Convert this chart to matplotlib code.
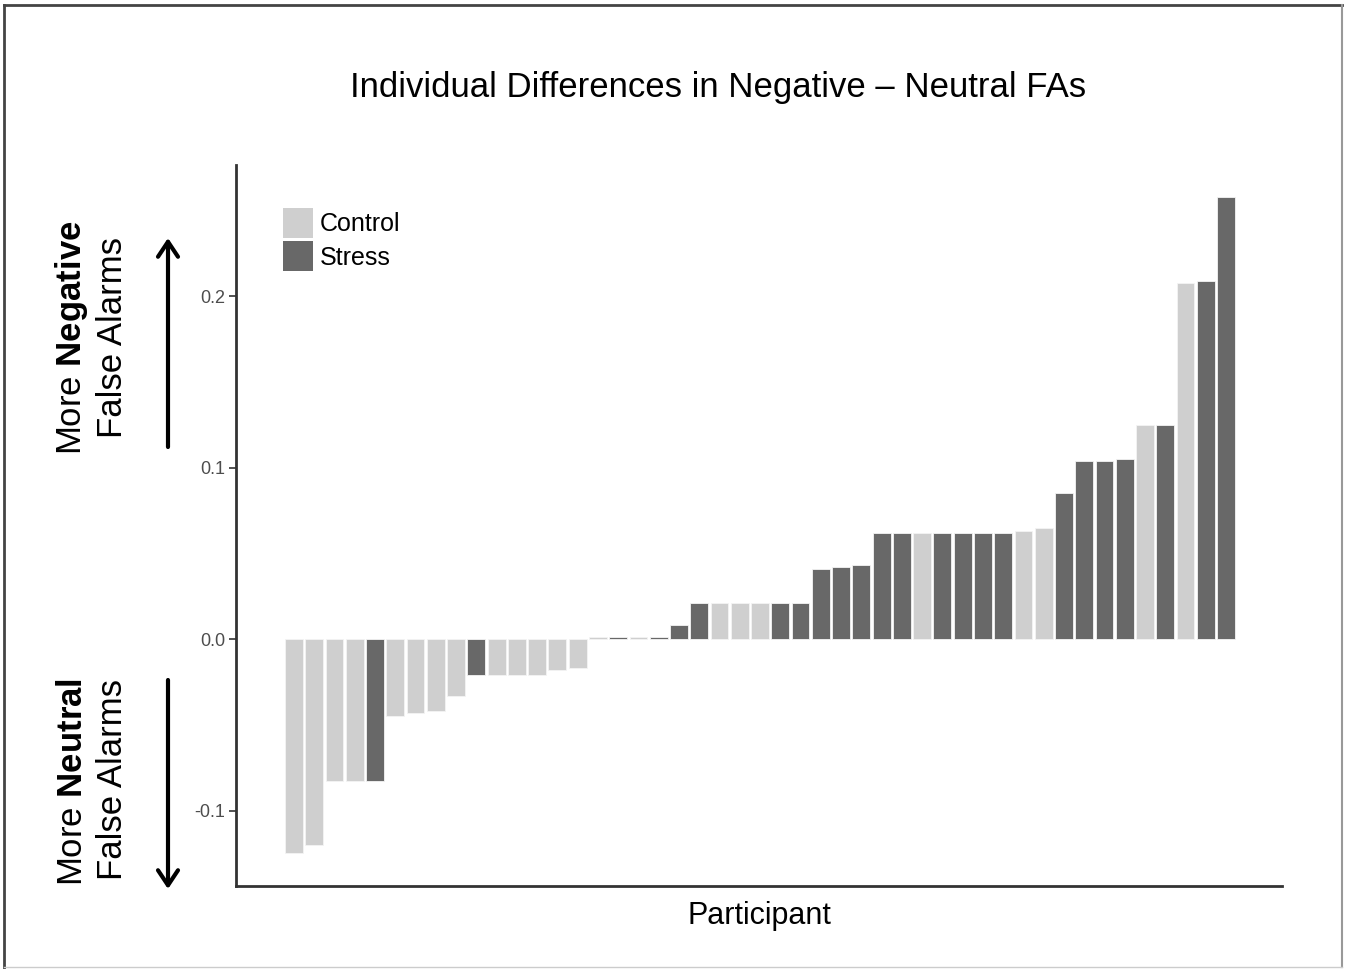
import matplotlib.pyplot as plt
import numpy as np
from matplotlib.patches import FancyArrowPatch, Patch
from matplotlib.lines import Line2D

# Data (sorted differences, Negative - Neutral FA rate, per participant)
values = [-0.125, -0.120, -0.083, -0.083, -0.083, -0.045, -0.043, -0.042,
          -0.033, -0.021, -0.021, -0.021, -0.021, -0.018, -0.017,
          0.001, 0.001, 0.001, 0.001, 0.008,
          0.021, 0.021, 0.021, 0.021, 0.021, 0.021,
          0.041, 0.042, 0.043,
          0.062, 0.062, 0.062, 0.062, 0.062, 0.062, 0.062, 0.063, 0.065,
          0.085, 0.104, 0.104, 0.105, 0.125, 0.125, 0.208, 0.209, 0.258]
groups = ["C", "C", "C", "C", "S", "C", "C", "C", "C", "S", "C", "C", "C",
          "C", "C", "C", "S", "C", "S", "S", "S", "C", "C", "C", "S", "S",
          "S", "S", "S", "S", "S", "C", "S", "S", "S", "S", "C", "C", "S",
          "S", "S", "S", "C", "S", "C", "S", "S"]
group_names = {"C": "Control", "S": "Stress"}
yticks = [-0.1, 0.0, 0.1, 0.2]

# Styling
plt.rcParams.update({
    "font.family": ["Liberation Sans", "DejaVu Sans"],
    "axes.unicode_minus": False,
    "mathtext.fontset": "custom",
    "mathtext.rm": "Liberation Sans",
    "mathtext.bf": "Liberation Sans:bold",
})
colors = {"C": "#cfcfcf", "S": "#686868"}

W, H = 1350, 969
fig = plt.figure(figsize=(W / 100, H / 100), dpi=100)
ax = fig.add_axes([236 / W, 1 - 886 / H, (1282 - 236) / W, (886 - 165) / H])

x = np.arange(1, len(values) + 1)
ax.bar(x, values, width=0.88, color=[colors[g] for g in groups],
       edgecolor="#f4f4f4", linewidth=0.6)

ax.set_xlim(-1.86, 49.76)
ax.set_ylim(-0.144, 0.2766)
ax.set_xticks([])
ax.set_yticks(yticks)
ax.set_yticklabels([f"{t:.1f}" for t in yticks])
ax.tick_params(axis="y", labelsize=13, labelcolor="#4d4d4d", color="#333333",
               length=5, width=1.2, pad=3)
for side in ["top", "right"]:
    ax.spines[side].set_visible(False)
for side in ["left", "bottom"]:
    ax.spines[side].set_color("#333333")
    ax.spines[side].set_linewidth(2)

# legend
handles = [Patch(facecolor=colors[k], edgecolor="none", label=group_names[k])
           for k in ["C", "S"]]
ax.legend(handles=handles, loc="upper left", bbox_to_anchor=(0.045, 0.94),
          frameon=False, fontsize=18, handlelength=1.2, handleheight=1.45,
          labelspacing=0.14, handletextpad=0.25, borderpad=0, borderaxespad=0)

# titles
fig.text(718 / W, 1 - 88 / H, "Individual Differences in Negative \u2013 Neutral FAs",
         ha="center", va="center", fontsize=25)
fig.text(759 / W, 1 - 916 / H, "Participant", ha="center", va="center",
         fontsize=22)

# side annotations
fig.text(72 / W, 1 - 338 / H, r"More $\mathbf{Negative}$", rotation=90,
         ha="center", va="center", fontsize=25)
fig.text(113 / W, 1 - 338 / H, "False Alarms", rotation=90,
         ha="center", va="center", fontsize=25)
fig.text(72 / W, 1 - 782 / H, r"More $\mathbf{Neutral}$", rotation=90,
         ha="center", va="center", fontsize=25)
fig.text(113 / W, 1 - 780 / H, "False Alarms", rotation=90,
         ha="center", va="center", fontsize=25)

arrow_style = "->,head_length=0.45,head_width=0.3"
fig.add_artist(FancyArrowPatch((168 / W, 1 - 447 / H), (168 / W, 1 - 238 / H),
                               transform=fig.transFigure, arrowstyle=arrow_style,
                               mutation_scale=24, lw=3, color="black",
                               shrinkA=0, shrinkB=0))
fig.add_artist(FancyArrowPatch((168 / W, 1 - 680 / H), (168 / W, 1 - 889 / H),
                               transform=fig.transFigure, arrowstyle=arrow_style,
                               mutation_scale=24, lw=3, color="black",
                               shrinkA=0, shrinkB=0))

# outer frame
fig.add_artist(Line2D([4 / W, 1342 / W], [1 - 5 / H, 1 - 5 / H],
                      transform=fig.transFigure, color="#444444", lw=2))
fig.add_artist(Line2D([4 / W, 4 / W], [1 - 5 / H, 0], transform=fig.transFigure,
                      color="#444444", lw=2))
fig.add_artist(Line2D([1342 / W, 1342 / W], [1 - 5 / H, 1 - 967 / H],
                      transform=fig.transFigure, color="#999999", lw=1.5))
fig.add_artist(Line2D([4 / W, 1342 / W], [1 - 967 / H, 1 - 967 / H],
                      transform=fig.transFigure, color="#cccccc", lw=1))

fig.savefig("out.png", dpi=100)
